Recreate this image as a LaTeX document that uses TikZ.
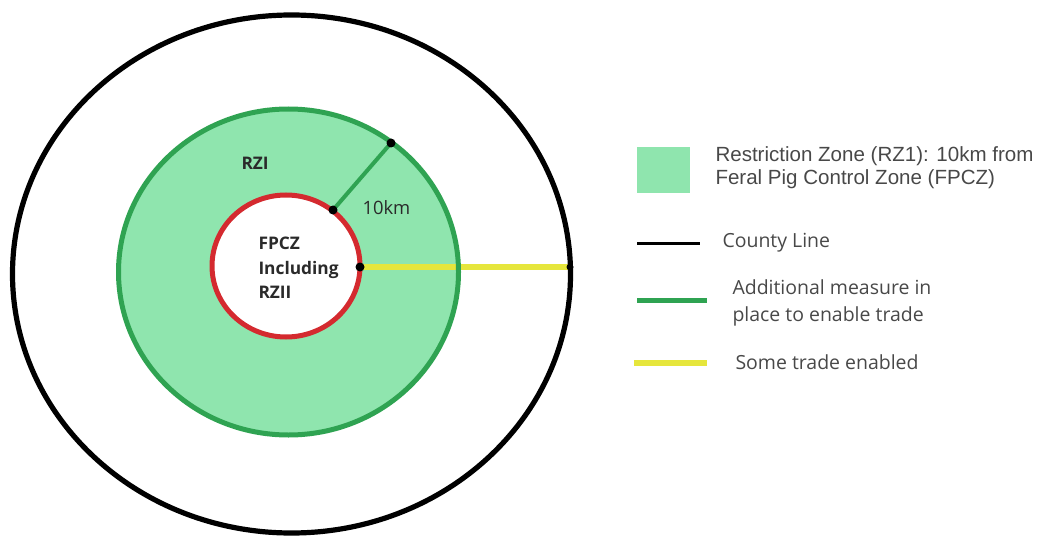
\documentclass[tikz,border=0pt]{standalone}
\usepackage{fontspec}
\setmainfont{Open Sans}
\newfontfamily\arialfont{Liberation Sans}

\definecolor{zonefill}{HTML}{8FE5AE}
\definecolor{zonegreen}{HTML}{2FA352}
\definecolor{fpczred}{HTML}{D42A2F}
\definecolor{tradeyellow}{HTML}{E6E63C}
\definecolor{labelgrey}{HTML}{2A2A2A}
\definecolor{keygrey}{HTML}{484848}

\tikzset{every picture/.style={line width=0.75pt}}
\tikzset{
  zonelabel/.style={anchor=west, inner sep=0.75pt, text=labelgrey, font=\fontsize{13}{18.4}\selectfont\bfseries},
  keytext/.style={anchor=west, inner sep=0.75pt, text=keygrey, align=left, font=\fontsize{14.6}{20.3}\selectfont},
  dot/.style={fill=black}
}

\begin{document}
\begin{tikzpicture}[x=0.75pt,y=0.75pt,yscale=-1,xscale=1]
%set diagram left start at 0, and has height of 538
\path (0,0) rectangle (1041,538);

%Shape: Ellipse - county line
\draw [line width=3.9pt] (291.5,274) ellipse (279 and 259);
%Shape: Ellipse - restriction zone fill
\fill [zonefill] (288.5,272) ellipse (170 and 163);

%Straight Lines - some trade enabled
\coordinate (redE) at (360,267);
\coordinate (countyE) at (570,267);
\draw [tradeyellow, line width=4.5pt] (redE) -- (countyE);

%Shape: Ellipse - restriction zone edge
\draw [zonegreen, line width=3.75pt] (288.5,272) ellipse (170 and 163);
%Shape: Ellipse - FPCZ
\draw [fpczred, fill=white, line width=3.75pt] (286,266) ellipse (74 and 71);

%Straight Lines - 10km radius
\coordinate (redNE) at (333,210);
\coordinate (greenNE) at (391,143);
\draw [zonegreen, line width=3pt] (redNE) -- (greenNE);

\fill [dot] (redNE) circle (4.5);
\fill [dot] (greenNE) circle (4.5);
\fill [dot] (redE) circle (4.5);
\fill [dot] (countyE) circle (3.5);

% Text Node
\draw (240,163) node [zonelabel] (rzi) {RZI};
% Text Node
\draw (361,208) node [zonelabel, font=\fontsize{13.8}{18.4}\selectfont] (dist) {10km};
% Text Node
\draw (257,268) node [zonelabel, align=left] (fpcz) {FPCZ\\Including\\RZII};

%Legend
\fill [zonefill] (637,147) rectangle (690,193);
\draw (714,168) node [keytext, font=\arialfont\fontsize{15.4}{17.3}\selectfont] (keyzone) {Restriction Zone (RZ1): 10km from\\Feral Pig Control Zone (FPCZ)};

\draw [line width=2.25pt] (637,243) -- (700,243);
\draw (721,243) node [keytext] (keycounty) {County Line};

\draw [zonegreen, line width=3.75pt] (637,300) -- (707,300);
\draw (731,303) node [keytext] (keymeasure) {Additional measure in\\place to enable trade};

\draw [tradeyellow, line width=4.5pt] (634,363) -- (707,363);
\draw (734,362) node [keytext] (keytrade) {Some trade enabled};

\end{tikzpicture}
\end{document}
